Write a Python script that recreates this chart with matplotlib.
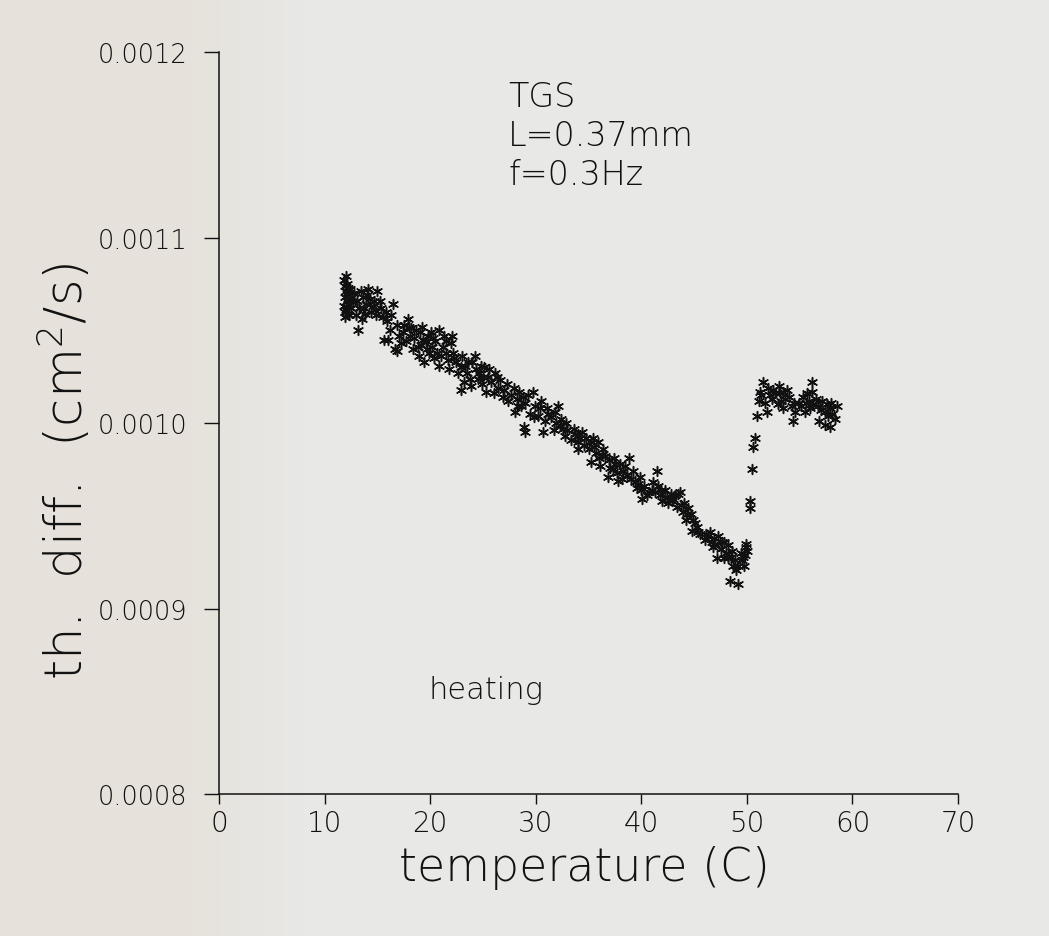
import numpy as np
import matplotlib
matplotlib.use("Agg")
import matplotlib.pyplot as plt
from matplotlib.ticker import FormatStrFormatter

# TGS thermal diffusivity vs temperature, heating run
# diffusivity values below are in units of 1e-3 cm^2/s

# ferroelectric phase, below the transition
temp_low = [
    11.8, 11.9, 12.0, 11.9, 12.1, 11.8, 12.0, 12.2, 11.9, 12.1, 12.3, 12.2, 12.4, 12.5, 12.3, 12.0,
    12.8, 13.1, 13.3, 13.0, 13.6, 13.9, 14.1, 14.4, 14.7, 15.0, 15.3, 15.5, 13.2, 16.5, 15.9, 16.2,
    15.6, 16.7, 17.0, 16.9, 13.5, 14.3, 14.8, 12.7, 13.8,
    12.1, 12.2, 11.9, 12.6, 13.4, 14.0, 14.6, 15.2, 15.8, 16.3, 13.7, 14.9, 16.0,
    17.4, 17.7, 18.0, 18.2, 18.5, 18.8, 19.0, 19.2, 19.4, 19.6, 19.9, 20.1, 20.4, 20.5, 20.8, 20.8,
    21.2, 21.5, 21.5, 21.8, 22.3, 16.9, 18.4, 17.2, 18.9, 19.7, 20.3, 21.0,
    17.5, 18.1, 18.7, 19.3, 19.8, 20.2, 20.6, 21.3, 21.7, 19.1, 17.9,
    22.0, 22.2, 22.4, 22.6, 22.1, 24.0, 24.6, 25.5, 23.2, 22.9, 25.3, 26.4, 22.9, 23.5, 23.8, 23.3,
    24.3, 24.9, 25.8, 26.1, 26.6, 23.0, 24.5, 25.1,
    23.6, 24.2, 24.8, 25.6, 26.3, 23.9, 25.0, 26.0,
    27.0, 27.9, 29.7, 27.4, 28.6, 29.5, 30.5, 31.1, 28.9, 29.0, 30.7, 32.1, 31.4, 32.4, 26.9, 27.7,
    28.2, 29.0, 29.9, 30.2, 30.9, 28.0,
    27.3, 28.4, 28.8, 29.3, 29.8, 30.4, 31.2, 31.8, 28.3,
    31.7, 32.6, 33.6, 33.3, 34.0, 34.4, 34.0, 35.2, 35.9, 35.7, 32.9, 33.9, 31.9, 34.8, 35.5, 36.0,
    32.3, 33.0, 33.7, 34.2, 34.6, 35.0, 35.4, 32.8,
    36.4, 35.2, 36.1, 37.4, 38.8, 36.8, 37.8, 38.3, 39.2, 39.9, 39.6, 40.1, 40.7, 37.0, 38.0, 38.6,
    39.4, 40.3, 36.6, 41.5,
    36.3, 36.9, 37.3, 37.7, 38.2, 38.5, 39.0, 39.7, 40.0, 40.5, 37.5,
    41.1, 41.6, 41.8, 42.8, 43.5, 42.5, 43.4, 44.4, 43.9, 43.7, 44.0, 44.2, 44.7, 45.1, 44.8, 45.6,
    42.2, 43.0, 41.3, 45.3,
    41.0, 41.9, 42.4, 42.9, 43.2, 43.8, 44.3, 44.9, 45.4, 42.0,
    46.3, 46.7, 47.3, 46.8, 47.8, 48.2, 47.2, 47.8, 48.2, 48.7, 49.2, 49.7, 49.6, 49.9, 50.0, 49.9,
    48.4, 49.2, 46.0, 46.5, 47.0, 48.0, 48.9, 49.4,
    46.1, 46.9, 47.5, 47.6, 48.5, 48.6, 49.0, 49.5, 49.8,
]
diff_low = [
    1.077, 1.074, 1.071, 1.068, 1.066, 1.063, 1.061, 1.059, 1.057, 1.075, 1.069, 1.064, 1.072, 1.062, 1.058, 1.079,
    1.070, 1.066, 1.062, 1.058, 1.068, 1.064, 1.072, 1.060, 1.066, 1.071, 1.062, 1.057, 1.050, 1.064, 1.055, 1.050,
    1.045, 1.040, 1.047, 1.053, 1.056, 1.067, 1.061, 1.065, 1.059,
    1.070, 1.073, 1.060, 1.068, 1.071, 1.069, 1.063, 1.066, 1.060, 1.058, 1.062, 1.058, 1.045,
    1.049, 1.044, 1.052, 1.051, 1.046, 1.041, 1.049, 1.052, 1.033, 1.044, 1.038, 1.049, 1.035, 1.044, 1.050, 1.031,
    1.041, 1.044, 1.038, 1.029, 1.035, 1.039, 1.040, 1.043, 1.036, 1.040, 1.046, 1.036,
    1.053, 1.047, 1.050, 1.045, 1.047, 1.041, 1.038, 1.047, 1.034, 1.042, 1.056,
    1.043, 1.038, 1.033, 1.027, 1.047, 1.033, 1.027, 1.025, 1.022, 1.018, 1.017, 1.019, 1.030, 1.027, 1.024, 1.031,
    1.029, 1.021, 1.022, 1.027, 1.023, 1.036, 1.024, 1.030,
    1.033, 1.036, 1.031, 1.029, 1.025, 1.020, 1.025, 1.016,
    1.018, 1.019, 1.017, 1.012, 1.009, 1.005, 1.012, 1.008, 0.998, 0.995, 0.995, 1.009, 1.003, 1.002, 1.014, 1.015,
    1.013, 1.011, 1.009, 1.004, 1.001, 1.006,
    1.021, 1.017, 1.014, 1.015, 1.003, 1.008, 1.005, 1.006, 1.009,
    0.996, 0.997, 0.997, 0.991, 0.990, 0.995, 0.986, 0.990, 0.990, 0.984, 1.000, 0.993, 1.000, 0.992, 0.987, 0.981,
    0.999, 0.996, 0.994, 0.992, 0.988, 0.986, 0.992, 0.993,
    0.986, 0.979, 0.977, 0.981, 0.981, 0.971, 0.969, 0.974, 0.974, 0.971, 0.965, 0.959, 0.963, 0.976, 0.978, 0.972,
    0.968, 0.966, 0.982, 0.974,
    0.983, 0.980, 0.975, 0.973, 0.970, 0.977, 0.970, 0.967, 0.964, 0.961, 0.978,
    0.968, 0.966, 0.961, 0.962, 0.962, 0.957, 0.955, 0.954, 0.952, 0.963, 0.957, 0.948, 0.951, 0.946, 0.942, 0.940,
    0.964, 0.959, 0.963, 0.944,
    0.964, 0.964, 0.960, 0.958, 0.961, 0.956, 0.951, 0.948, 0.941, 0.958,
    0.939, 0.936, 0.939, 0.933, 0.936, 0.934, 0.927, 0.927, 0.927, 0.923, 0.923, 0.923, 0.928, 0.933, 0.931, 0.935,
    0.915, 0.913, 0.937, 0.941, 0.935, 0.930, 0.926, 0.930,
    0.940, 0.938, 0.932, 0.936, 0.928, 0.931, 0.921, 0.926, 0.929,
]

# points across the jump at Tc
temp_jump = [50.3, 50.3, 50.5, 50.6, 50.8]
diff_jump = [0.954, 0.958, 0.975, 0.987, 0.992]

# paraelectric phase, above the transition
temp_high = [
    51.5, 56.2, 51.1, 51.7, 52.5, 52.7, 52.4, 53.4, 53.8, 53.2, 53.4, 54.3, 54.4, 54.9, 55.3, 55.7,
    56.2, 56.0, 55.5, 56.7, 57.1, 57.6, 57.4, 58.1, 58.5, 56.8, 57.4, 57.9, 51.0, 51.9,
    51.3, 52.0, 53.0, 54.0, 54.6, 55.9, 56.5, 57.9, 58.3, 52.9,
    51.2, 52.2, 53.6, 54.5, 55.1, 55.6, 56.3, 57.0, 57.7, 58.0, 53.1,
]
diff_high = [
    1.022, 1.022, 1.012, 1.011, 1.018, 1.016, 1.013, 1.017, 1.018, 1.012, 1.008, 1.009, 1.001, 1.011, 1.014, 1.016,
    1.017, 1.008, 1.006, 1.009, 1.012, 1.010, 1.006, 1.005, 1.009, 1.001, 0.999, 0.998, 1.004, 1.006,
    1.015, 1.019, 1.020, 1.014, 1.006, 1.012, 1.013, 1.008, 1.002, 1.010,
    1.017, 1.015, 1.013, 1.011, 1.009, 1.011, 1.010, 1.007, 1.004, 1.011, 1.016,
]

temps = np.array(temp_low + temp_jump + temp_high)
diffs = np.array(diff_low + diff_jump + diff_high) * 1e-3

plt.rcParams["font.family"] = ["DejaVu Sans"]
plt.rcParams["font.weight"] = "light"
ink = "#111111"

fig = plt.figure(figsize=(10.49, 9.37), dpi=100)
fig.patch.set_facecolor("#e7e7e5")

# paper tone, slightly warmer towards the left edge
bg = fig.add_axes([0, 0, 1, 1], zorder=-10)
grad = np.linspace(0, 1, 256)
warm = np.array([0.902, 0.886, 0.858])
cool = np.array([0.910, 0.910, 0.902])
w = np.clip((grad - 0.17) / 0.12, 0, 1)[:, None]
row = warm * (1 - w) + cool * w
bg.imshow(row[None, :, :], aspect="auto", extent=[0, 1, 0, 1])
bg.set_axis_off()

ax = fig.add_axes([0.2088, 0.1515, 0.7045, 0.7919])
ax.patch.set_alpha(0)
ax.scatter(temps, diffs, marker=(6, 2, 0), s=50, color=ink, linewidths=1.1, zorder=3)

ax.set_xlim(0, 70)
ax.set_ylim(0.0008, 0.0012)
ax.set_xticks(np.arange(0, 71, 10))
ax.set_yticks([0.0008, 0.0009, 0.0010, 0.0011, 0.0012])
ax.yaxis.set_major_formatter(FormatStrFormatter("%.4f"))
for s in ["top", "right"]:
    ax.spines[s].set_visible(False)
for s in ["left", "bottom"]:
    ax.spines[s].set_color(ink)
    ax.spines[s].set_linewidth(1.1)
ax.tick_params(axis="y", direction="out", length=11, width=1.0, pad=12,
               labelsize=18.5, colors=ink)
ax.tick_params(axis="x", direction="out", length=7, width=1.0, pad=4,
               labelsize=20, colors=ink)

ax.text(27.4, 0.001171, "TGS", fontsize=24, color=ink)
ax.text(27.4, 0.001150, "L=0.37mm", fontsize=24, color=ink)
ax.text(27.4, 0.001129, "f=0.3Hz", fontsize=24, color=ink)
ax.text(19.8, 0.000852, "heating", fontsize=22, color=ink)

fig.text(0.557, 0.074, "temperature (C)", fontsize=33, color=ink, ha="center", va="center")
fig.text(0.062, 0.497, "th.  diff.  (cm$^2$/s)", fontsize=37, color=ink,
         rotation=90, ha="center", va="center")

fig.savefig("out.png", dpi=100, facecolor=fig.get_facecolor())
